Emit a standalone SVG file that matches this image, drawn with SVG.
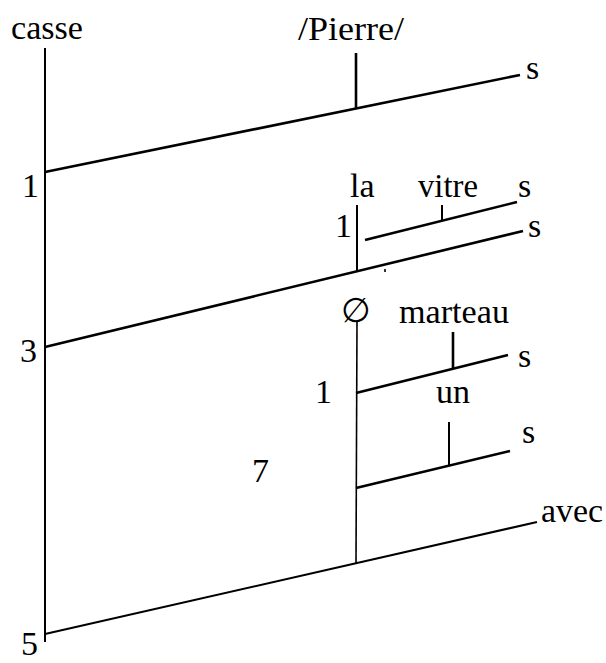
<svg xmlns="http://www.w3.org/2000/svg" width="606" height="663" viewBox="0 0 606 663">
<style>
  text { font-family: "Liberation Serif", "DejaVu Serif", serif; font-size: 34px; fill: #000; }
  .thick { stroke: #000; stroke-width: 2.6; fill: none; stroke-linecap: butt; }
  .mid { stroke: #000; stroke-width: 2; fill: none; }
  .thin { stroke: #000; stroke-width: 1.6; fill: none; }
</style>
<rect width="606" height="663" fill="#fff"/>
<g id="connectors">
  <line class="mid" x1="45" y1="48" x2="45" y2="642"/>
  <line class="thick" x1="45" y1="172" x2="520" y2="75"/>
  <line class="thick" x1="356" y1="53" x2="356" y2="108"/>
  <line class="thick" x1="45" y1="347" x2="523" y2="231"/>
  <line class="mid" x1="357" y1="205" x2="357" y2="271"/>
  <line class="thick" x1="365" y1="240" x2="517" y2="202"/>
  <line class="mid" x1="442" y1="205" x2="442" y2="221"/>
  <line class="thin" x1="385" y1="269" x2="385" y2="272"/>
  <line class="thin" x1="357" y1="322" x2="356" y2="563"/>
  <line class="thick" x1="356" y1="393" x2="508" y2="355"/>
  <line class="thick" x1="453" y1="332" x2="453" y2="368"/>
  <line class="thick" x1="356" y1="488" x2="510" y2="451"/>
  <line class="mid" x1="449" y1="422" x2="449" y2="465"/>
  <line class="mid" x1="45" y1="634" x2="537" y2="522"/>
</g>
<g id="casse"><text x="11" y="39" textLength="72" lengthAdjust="spacingAndGlyphs">casse</text></g>
<g id="pierre"><text x="298" y="40" textLength="106" lengthAdjust="spacingAndGlyphs">/Pierre/</text><text x="526" y="79">s</text></g>
<g id="n1"><text x="22" y="197">1</text></g>
<g id="la"><text x="350" y="197">la</text><text x="335" y="237">1</text></g>
<g id="vitre"><text x="418" y="197" textLength="60" lengthAdjust="spacingAndGlyphs">vitre</text><text x="518" y="197">s</text></g>
<g id="s3"><text x="528" y="237">s</text></g>
<g id="n3"><text x="20" y="362">3</text></g>
<g id="vide"><text x="341" y="322">∅</text></g>
<g id="marteau"><text x="399" y="323" textLength="110" lengthAdjust="spacingAndGlyphs">marteau</text><text x="518" y="367">s</text></g>
<g id="n1b"><text x="315" y="403">1</text></g>
<g id="un"><text x="436" y="403">un</text><text x="522" y="443">s</text></g>
<g id="n7"><text x="252" y="482">7</text></g>
<g id="avec"><text x="541" y="522" textLength="62" lengthAdjust="spacingAndGlyphs">avec</text></g>
<g id="n5"><text x="21" y="655">5</text></g>
</svg>
